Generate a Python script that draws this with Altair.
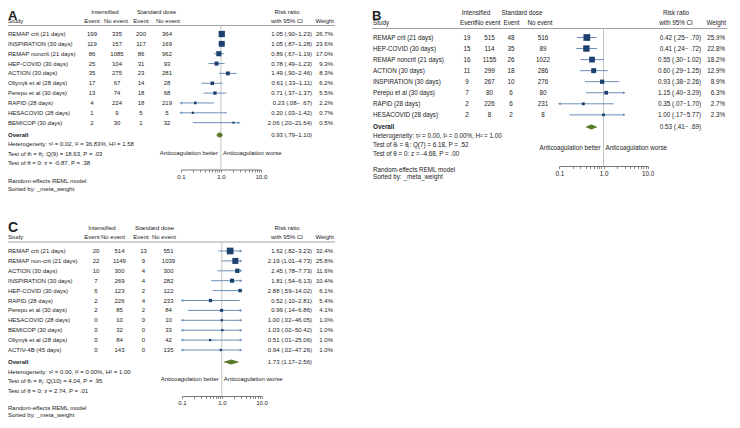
import altair as alt
import pandas as pd

FONT = "Liberation Sans"
TXT = "#222222"
SQ = "#1c416f"
CIC = "#6b8fb9"
DIA = "#5a7b2a"
REF = "#b4b4b4"
AXC = "#555555"
NB = "\u00a0"

TICKS = [0.1, 0.2, 0.3, 0.4, 0.5, 0.6, 0.7, 0.8, 0.9, 1, 2, 3, 4, 5, 6, 7, 8, 9, 10]

# ---------------- Panel A ----------------
a_study = ["REMAP crit (21 days)", "INSPIRATION (30 days)", "REMAP noncrit (21 days)",
           "HEP-COVID (30 days)", "ACTION (30 days)", "Oliynyk et al (28 days)",
           "Perepu et al (30 days)", "RAPID (28 days)", "HESACOVID (28 days)", "BEMICOP (30 days)"]
a_int_event = [199, 119, 86, 25, 35, 17, 13, 4, 1, 2]
a_int_none = [335, 157, 1085, 104, 275, 67, 74, 224, 9, 30]
a_std_event = [200, 117, 86, 31, 23, 14, 18, 18, 5, 1]
a_std_none = [364, 169, 962, 93, 281, 28, 68, 219, 5, 32]
a_rr = [1.05, 1.05, 0.89, 0.78, 1.49, 0.61, 0.71, 0.23, 0.20, 2.06]
a_lo = [0.90, 0.87, 0.67, 0.49, 0.90, 0.33, 0.37, 0.08, 0.03, 0.20]
a_hi = [1.23, 1.28, 1.19, 1.23, 2.46, 1.11, 1.37, 0.67, 1.42, 21.64]
a_wt = [26.7, 23.6, 17.0, 9.3, 8.3, 6.2, 5.5, 2.2, 0.7, 0.5]
a_overall = [0.93, 0.79, 1.10]
a_stats = ["Heterogeneity: \u03c4\u00b2 = 0.02, I\u00b2 = 36.83%, H\u00b2 = 1.58",
           "Test of \u03b8\u1d62 = \u03b8\u2c7c: Q(9) = 18.63, P = .03",
           "Test of \u03b8 = 0: z = -0.87, P = .38"]

# ---------------- Panel B ----------------
b_study = ["REMAP crit (21 days)", "HEP-COVID (30 days)", "REMAP noncrit (21 days)",
           "ACTION (30 days)", "INSPIRATION (30 days)", "Perepu et al (30 days)",
           "RAPID (28 days)", "HESACOVID (28 days)"]
b_int_event = [19, 15, 16, 11, 9, 7, 2, 2]
b_int_none = [515, 114, 1155, 299, 267, 80, 226, 8]
b_std_event = [48, 35, 26, 18, 10, 6, 6, 2]
b_std_none = [516, 89, 1022, 286, 276, 80, 231, 8]
b_rr = [0.42, 0.41, 0.55, 0.60, 0.93, 1.15, 0.35, 1.00]
b_lo = [0.25, 0.24, 0.30, 0.29, 0.38, 0.40, 0.07, 0.17]
b_hi = [0.70, 0.72, 1.02, 1.25, 2.26, 3.29, 1.70, 5.77]
b_wt = [25.9, 22.8, 18.2, 12.9, 8.9, 6.3, 2.7, 2.3]
b_overall = [0.53, 0.41, 0.69]
b_stats = ["Heterogeneity: \u03c4\u00b2 = 0.00, I\u00b2 = 0.00%, H\u00b2 = 1.00",
           "Test of \u03b8\u1d62 = \u03b8\u2c7c: Q(7) = 6.18, P = .52",
           "Test of \u03b8 = 0: z = -4.68, P = .00"]

# ---------------- Panel C ----------------
c_study = ["REMAP crit (21 days)", "REMAP non-crit (21 days)", "ACTION (30 days)",
           "INSPIRATION (30 days)", "HEP-COVID (30 days)", "RAPID (28 days)",
           "Perepu et al (30 days)", "HESACOVID (28 days)", "BEMICOP (30 days)",
           "Oliynyk et al (28 days)", "ACTIV-4B (45 days)"]
c_int_event = [20, 22, 10, 7, 6, 2, 2, 0, 0, 0, 0]
c_int_none = [514, 1149, 300, 269, 123, 226, 85, 10, 32, 84, 143]
c_std_event = [13, 9, 4, 4, 2, 4, 2, 0, 0, 0, 0]
c_std_none = [551, 1039, 300, 282, 122, 233, 84, 10, 33, 42, 135]
c_rr = [1.62, 2.19, 2.45, 1.81, 2.88, 0.52, 0.99, 1.00, 1.03, 0.51, 0.94]
c_lo = [0.82, 1.01, 0.78, 0.54, 0.59, 0.10, 0.14, 0.02, 0.02, 0.01, 0.02]
c_hi = [3.23, 4.73, 7.73, 6.13, 14.02, 2.81, 6.86, 46.05, 50.42, 25.06, 47.26]
c_wt = [32.4, 25.8, 11.6, 10.4, 6.1, 5.4, 4.1, 1.0, 1.0, 1.0, 1.0]
c_overall = [1.73, 1.17, 2.56]
c_stats = ["Heterogeneity: \u03c4\u00b2 = 0.00, I\u00b2 = 0.00%, H\u00b2 = 1.00",
           "Test of \u03b8\u1d62 = \u03b8\u2c7c: Q(10) = 4.04, P = .95",
           "Test of \u03b8 = 0: z = 2.74, P = .01"]

# ---------------- layout (page pixel coordinates) ----------------
LA = dict(letter="A", lx=8, ly=20, lfs=13, h1=12, h2=21, line=25.5, lx0=8, lx1=335,
          row0=34, dy=9.85, x01=180.8, x10=261, clip=2.85,
          cols=[92, 117, 141, 167], hcols=[92, 116, 141, 168], hint=105, hstd=156.5,
          hrr=287, rr_r=312, wt_r=333, whead_r=334, sx=8, ov=135,
          stats=[144, 153.5, 163], anti=153.3, axis=169.5, re=[181, 188.5],
          fs=6.0, smax=50, lp=1)
LB = dict(letter="B", lx=372, ly=20, lfs=13, h1=13, h2=22.5, line=28.5, lx0=372, lx1=727,
          row0=37.5, dy=11.05, x01=559.3, x10=647.7, clip=2.95,
          cols=[467, 489.5, 511, 543], hcols=[468, 488, 511.5, 540], hint=476, hstd=522,
          hrr=676, rr_r=701, wt_r=725, whead_r=726, sx=373, ov=127,
          stats=[136, 145, 154], anti=148.3, axis=166, re=[170, 177],
          fs=6.3, smax=60, lp=1.5)
LC = dict(letter="C", lx=8, ly=232, lfs=14, h1=228, h2=237, line=242, lx0=8, lx1=335,
          row0=251, dy=9.9, x01=182, x10=261.6, clip=3.05,
          cols=[96, 119.5, 143.5, 168.5], hcols=[92, 113, 141, 164], hint=102, hstd=154.5,
          hrr=287, rr_r=312, wt_r=333, whead_r=334, sx=8, ov=362,
          stats=[371.5, 381, 390.5], anti=379.3, axis=396, re=[408, 415],
          fs=6.0, smax=48, lp=1)

W, H = 724, 412


def h(x):
    return x - 8


def v(y):
    return y - 8


def f2(u):
    s = f"{u:.2f}"
    return s[1:] if s.startswith("0.") else s


def lab(text, x, y, fs, align="left", bold=False, baseline="middle"):
    return alt.Chart(pd.DataFrame({"t": [text]})).mark_text(
        align=align, baseline=baseline, fontSize=fs, font=FONT, color=TXT,
        fontWeight="bold" if bold else "normal"
    ).encode(x=alt.value(h(x)), y=alt.value(v(y)), text="t:N")


def build(study, ie, ino, se, sno, rr, lo, hi, wt, overall, stats, L):
    n = len(study)
    fs = L["fs"]
    df = pd.DataFrame(dict(study=study, ie=[str(x) for x in ie], ino=[str(x) for x in ino],
                           se=[str(x) for x in se], sno=[str(x) for x in sno],
                           rr=rr, lo=lo, hi=hi, wt=wt))
    df["row"] = list(range(1, n + 1))
    df["lo_c"] = df["lo"].clip(lower=0.1)
    df["hi_c"] = df["hi"].clip(upper=L["clip"])
    df["rr_txt"] = [f"{r:.2f} ({f2(l)}\u2212{f2(u).rjust(4, NB)})" for r, l, u in zip(rr, lo, hi)]
    df["wt_txt"] = [f"{w:.1f}%" for w in wt]

    XS = alt.Scale(type="log", domain=[0.1, 10], range=[h(L["x01"]), h(L["x10"])], nice=False)
    YS = alt.Scale(domain=[1, n], range=[v(L["row0"]), v(L["row0"] + (n - 1) * L["dy"])],
                   nice=False, zero=False)
    AX = alt.Axis(values=TICKS,
                  labelExpr="indexof([0.1, 1, 10], datum.value) >= 0 ? format(datum.value, '.1f') : ''",
                  orient="bottom", offset=v(L["axis"]) - H, title=None, grid=False,
                  domainColor=AXC, domainWidth=0.8, tickColor=AXC, tickWidth=0.7, tickSize=2.5,
                  labelFontSize=fs, labelFont=FONT, labelColor=TXT, labelPadding=L["lp"],
                  labelOverlap=False, labelFlush=False)

    def X(f):
        return alt.X(f, scale=XS, axis=AX)

    Y = alt.Y("row:Q", scale=YS, axis=None)
    base = alt.Chart(df)
    layers = []

    # header rule and reference line at 1
    layers.append(alt.Chart(pd.DataFrame({"d": [0]})).mark_rule(color="#8c8c8c", strokeWidth=0.8).encode(
        x=alt.value(h(L["lx0"])), x2=alt.value(h(L["lx1"])), y=alt.value(v(L["line"]))))
    layers.append(alt.Chart(pd.DataFrame({"d": [0]})).mark_rule(color=REF, strokeWidth=0.8).encode(
        x=alt.XDatum(1, scale=XS, axis=AX, type="quantitative"),
        y=alt.value(v(L["line"])), y2=alt.value(v(L["axis"]))))

    # CIs, arrows, squares
    layers.append(base.mark_rule(color=CIC, strokeWidth=1).encode(x=X("lo_c:Q"), x2="hi_c:Q", y=Y))
    layers.append(base.transform_filter("datum.lo <= 0.1").mark_point(
        shape="triangle-left", filled=True, size=9, color=CIC, opacity=1).encode(x=X("lo_c:Q"), y=Y))
    layers.append(base.transform_filter(f"datum.hi > {L['clip']}").mark_point(
        shape="triangle-right", filled=True, size=9, color=CIC, opacity=1).encode(x=X("hi_c:Q"), y=Y))
    layers.append(base.mark_square(filled=True, color=SQ, opacity=1).encode(
        x=X("rr:Q"), y=Y,
        size=alt.Size("wt:Q", scale=alt.Scale(domain=[0, 35], range=[4, L["smax"]]), legend=None)))

    # overall diamond (trail: zero width at CI ends, full at estimate)
    dd = pd.DataFrame({"val": [overall[1], overall[0], overall[2]], "k": [0, 1, 0]})
    layers.append(alt.Chart(dd).mark_trail(color=DIA).encode(
        x=X("val:Q"), y=alt.value(v(L["ov"])),
        size=alt.Size("k:Q", scale=alt.Scale(domain=[0, 1], range=[0, 5]), legend=None)))

    # table columns
    def col(field, x, align):
        return base.mark_text(align=align, baseline="middle", fontSize=fs, font=FONT, color=TXT).encode(
            x=alt.value(h(x)), y=Y, text=f"{field}:N")

    layers.append(col("study", L["sx"], "left"))
    for fld, cx in zip(["ie", "ino", "se", "sno"], L["cols"]):
        layers.append(col(fld, cx, "center"))
    layers.append(col("rr_txt", L["rr_r"], "right"))
    layers.append(col("wt_txt", L["wt_r"], "right"))

    # headers
    layers.append(lab(L["letter"], L["lx"], L["ly"], L["lfs"], bold=True, baseline="alphabetic"))
    layers.append(lab("Intensified", L["hint"], L["h1"], fs, "center"))
    layers.append(lab("Standard dose", L["hstd"], L["h1"], fs, "center"))
    layers.append(lab("Risk ratio", L["hrr"], L["h1"], fs, "center"))
    layers.append(lab("Study", L["sx"], L["h2"], fs))
    for t, cx in zip(["Event", "No event", "Event", "No event"], L["hcols"]):
        layers.append(lab(t, cx, L["h2"], fs, "center"))
    layers.append(lab("with 95% CI", L["hrr"], L["h2"], fs, "center"))
    layers.append(lab("Weight", L["whead_r"], L["h2"], fs, "right"))

    # overall + statistics
    layers.append(lab("Overall", L["sx"], L["ov"], fs, bold=True))
    ov_txt = f"{overall[0]:.2f} ({f2(overall[1])}\u2212{f2(overall[2]).rjust(4, NB)})"
    layers.append(lab(ov_txt, L["rr_r"], L["ov"], fs, "right"))
    for t, yy in zip(stats, L["stats"]):
        layers.append(lab(t, L["sx"], yy, fs))
    x1 = (L["x01"] + L["x10"]) / 2
    layers.append(lab("Anticoagulation better", x1 - 3, L["anti"], fs, "right"))
    layers.append(lab("Anticoagulation worse", x1 + 2, L["anti"], fs, "left"))
    layers.append(lab("Random-effects REML model", L["sx"], L["re"][0], fs))
    layers.append(lab("Sorted by: _meta_weight", L["sx"], L["re"][1], fs))

    return alt.layer(*layers).resolve_scale(size="independent")


pA = build(a_study, a_int_event, a_int_none, a_std_event, a_std_none, a_rr, a_lo, a_hi, a_wt,
           a_overall, a_stats, LA)
pB = build(b_study, b_int_event, b_int_none, b_std_event, b_std_none, b_rr, b_lo, b_hi, b_wt,
           b_overall, b_stats, LB)
pC = build(c_study, c_int_event, c_int_none, c_std_event, c_std_none, c_rr, c_lo, c_hi, c_wt,
           c_overall, c_stats, LC)

chart = alt.layer(pA, pB, pC).resolve_scale(
    x="independent", y="independent", size="independent"
).properties(
    width=W, height=H, padding=0, autosize=alt.AutoSizeParams(type="none")
).configure_view(stroke=None)

chart.save("out.html", embed_options={"renderer": "svg", "actions": False})
